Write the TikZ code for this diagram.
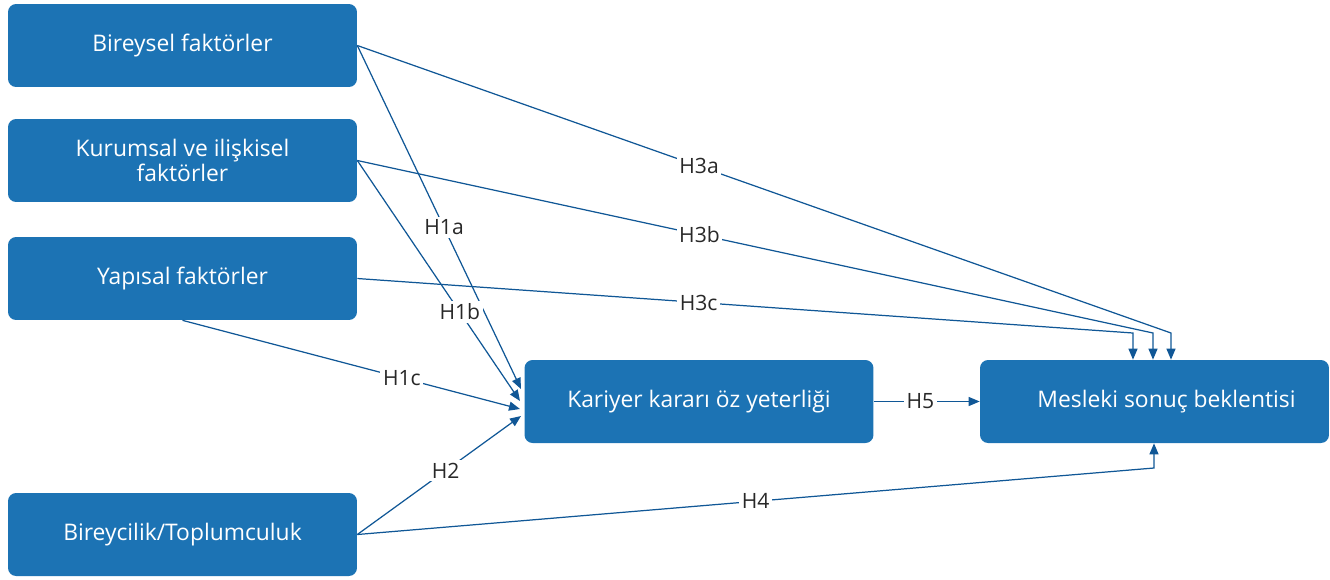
\documentclass[tikz,border=0pt]{standalone}
\usepackage{fontspec}
\setmainfont{Open Sans}
\usetikzlibrary{arrows.meta}
\definecolor{boxblue}{RGB}{28,115,180}
\definecolor{lineblue}{RGB}{16,87,150}
\definecolor{hyptext}{RGB}{40,40,40}
\begin{document}
\begin{tikzpicture}[x=0.02cm,y=-0.02cm,
  factor/.style={fill=boxblue,text=white,rounded corners=0.16cm,minimum width=6.98cm,minimum height=1.66cm,align=center,inner sep=0pt,font=\fontsize{13}{14.7}\selectfont},
  link/.style={draw=lineblue,line width=0.7pt,-{Triangle[length=0.22cm,width=0.18cm]}},
  hyp/.style={fill=white,text=hyptext,inner sep=1.5pt,font=\fontsize{12}{13}\selectfont}]
\useasboundingbox (0,0) rectangle (1330,579);
% factors on the left
\node[factor] (bir) at (182.5,45.5) {Bireysel faktörler};
\node[factor] (kur) at (182.5,160.5) {Kurumsal ve ilişkisel\\faktörler};
\node[factor] (yap) at (182.5,278.5) {Yapısal faktörler};
\node[factor] (toc) at (182.5,534.5) {Bireycilik/Toplumculuk};
% mediator and outcome
\node[factor] (kar) at (699,401.5) {Kariyer kararı öz yeterliği};
\node[factor] (mes) at (1154.5,401.5) {\hspace*{0.48cm}Mesleki sonuç beklentisi};
% arrow ends on kar
\coordinate (k1a) at (521,389);
\coordinate (k1b) at (520,401);
\coordinate (k1c) at (520,409);
\coordinate (k2) at (521,416);
% bends above and below mes
\coordinate (b3a) at (1171,333);
\coordinate (b3b) at (1153,333);
\coordinate (b3c) at (1133,333);
\coordinate (b4) at (1154,468);
% H1a, H1b, H1c, H2
\draw[link] (bir.east) -- node[hyp,pos=0.53] {H1a} (k1a);
\draw[link] (kur.east) -- node[hyp,pos=0.63] {H1b} (k1b);
\draw[link] (yap.south) -- node[hyp,pos=0.65] {H1c} (k1c);
\draw[link] (toc.east) -- node[hyp,pos=0.54] {H2} (k2);
% H3a, H3b, H3c
\draw[link] (bir.east) -- node[hyp,pos=0.42] {H3a} (b3a) -- (b3a |- mes.north);
\draw[link] (kur.east) -- node[hyp,pos=0.43] {H3b} (b3b) -- (b3b |- mes.north);
\draw[link] (yap.east) -- node[hyp,pos=0.44] {H3c} (b3c) -- (b3c |- mes.north);
% H4
\draw[link] (toc.east) -- node[hyp,pos=0.5] {H4} (b4) -- (b4 |- mes.south);
% H5
\draw[link] (kar.east) -- node[hyp,pos=0.44] {H5} (mes.west);
\end{tikzpicture}
\end{document}
